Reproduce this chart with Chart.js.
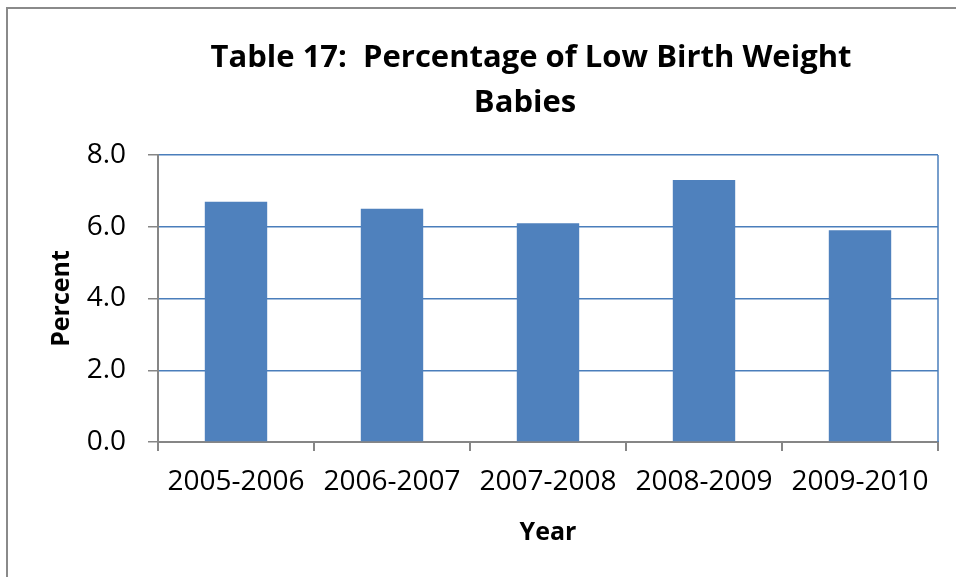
<!DOCTYPE html>
<html>
<head>
<meta charset="utf-8">
<script src="https://cdn.jsdelivr.net/npm/chart.js@4/dist/chart.umd.min.js"></script>
<style>
    html, body { margin: 0; padding: 0; background: #fff; overflow: hidden; }
    #wrap { position: relative; width: 956px; height: 577px; }
    /* outer chart frame, runs off the right and bottom edge like the original */
    #frame { position: absolute; left: 6px; top: 7px; width: 1000px; height: 700px; border: 2px solid #8a8a8a; }
    #lbwChart { position: absolute; left: 0; top: 0; }
</style>
</head>
<body>
<div id="wrap">
    <div id="frame"></div>
    <canvas id="lbwChart" width="956" height="577"></canvas>
</div>
<script>
// Data
const years = ['2005-2006', '2006-2007', '2007-2008', '2008-2009', '2009-2010'];
const lowBirthWeightPct = [6.7, 6.5, 6.1, 7.3, 5.9];
const titleLines = ['Table 17:  Percentage of Low Birth Weight', 'Babies'];

const FONT = "'Open Sans', 'DejaVu Sans', sans-serif";
const AXIS_GREY = '#868686';
const GRID_BLUE = '#4A7EBB';

/**
 * Draws the two-line chart title (centered a little left of the plot, like Excel)
 */
const chartTitlePlugin = {
    id: 'chartTitle',
    afterDraw(chart) {
        const ctx = chart.ctx;
        ctx.save();
        ctx.font = 'bold 31px ' + FONT;
        ctx.fillStyle = '#000';
        ctx.textAlign = 'center';
        ctx.textBaseline = 'alphabetic';
        ctx.fillText(titleLines[0], 531, 67);
        ctx.fillText(titleLines[1], 525, 112);
        ctx.restore();
    }
};

/**
 * Blue line on the right side of the plot area
 */
const plotBorderPlugin = {
    id: 'plotBorder',
    beforeDatasetsDraw(chart) {
        const {ctx, chartArea} = chart;
        ctx.save();
        ctx.strokeStyle = GRID_BLUE;
        ctx.lineWidth = 1.5;
        ctx.beginPath();
        ctx.moveTo(chartArea.right, chartArea.top);
        ctx.lineTo(chartArea.right, chartArea.bottom);
        ctx.stroke();
        ctx.restore();
    }
};

document.addEventListener('DOMContentLoaded', function() {
    new Chart(document.getElementById('lbwChart'), {
        type: 'bar',
        data: {
            labels: years,
            datasets: [{
                label: 'Percent',
                data: lowBirthWeightPct,
                backgroundColor: '#4F81BD',
                borderWidth: 0,
                categoryPercentage: 1.0,
                barPercentage: 0.4
            }]
        },
        options: {
            responsive: false,
            animation: false,
            layout: {
                padding: { top: 155, right: 18, bottom: 0, left: 0 }
            },
            plugins: {
                legend: { display: false },
                tooltip: { enabled: false },
                title: { display: false }
            },
            scales: {
                x: {
                    afterFit: function(scale) { scale.height = 135; },
                    border: { color: AXIS_GREY, width: 2 },
                    grid: {
                        drawOnChartArea: false,
                        tickColor: AXIS_GREY,
                        tickLength: 9,
                        lineWidth: 2
                    },
                    ticks: {
                        color: '#000',
                        padding: 14,
                        font: { family: FONT, size: 28 }
                    },
                    title: {
                        display: true,
                        text: 'Year',
                        color: '#000',
                        font: { family: FONT, size: 25, weight: 'bold' },
                        padding: { top: 0, bottom: 29 }
                    }
                },
                y: {
                    min: 0,
                    max: 8,
                    afterFit: function(scale) { scale.width = 158; },
                    border: { color: AXIS_GREY, width: 2 },
                    grid: {
                        color: GRID_BLUE,
                        lineWidth: 1.5,
                        tickColor: AXIS_GREY,
                        tickLength: 10
                    },
                    ticks: {
                        stepSize: 2,
                        color: '#000',
                        padding: 22,
                        font: { family: FONT, size: 28 },
                        callback: function(value) { return value.toFixed(1); }
                    },
                    title: {
                        display: true,
                        text: 'Percent',
                        color: '#000',
                        font: { family: FONT, size: 25, weight: 'bold' },
                        padding: { top: 47, bottom: 0 }
                    }
                }
            }
        },
        plugins: [plotBorderPlugin, chartTitlePlugin]
    });
});
</script>
</body>
</html>
